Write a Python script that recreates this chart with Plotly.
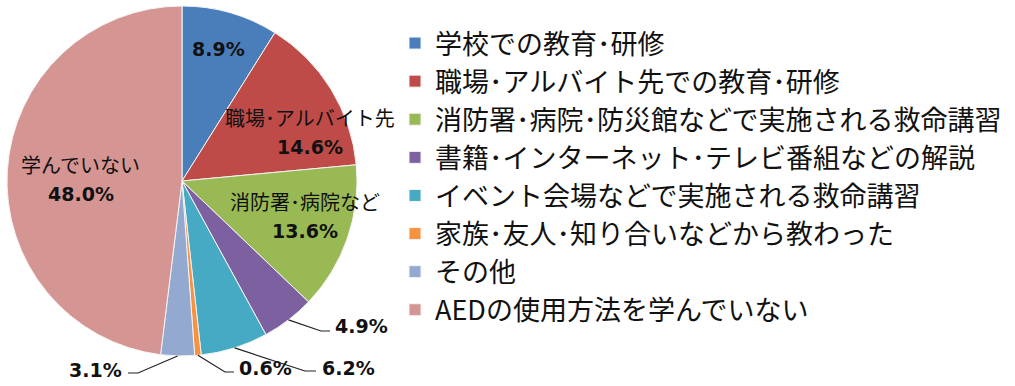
import math
import plotly.graph_objects as go

# ---- data ----
categories = [
    "学校での教育･研修",
    "職場･アルバイト先での教育･研修",
    "消防署･病院･防災館などで実施される救命講習",
    "書籍･インターネット･テレビ番組などの解説",
    "イベント会場などで実施される救命講習",
    "家族･友人･知り合いなどから教わった",
    "その他",
    "AEDの使用方法を学んでいない",
]
values = [8.9, 14.6, 13.6, 4.9, 6.2, 0.6, 3.1, 48.0]
short_labels = ["", "職場･アルバイト先", "消防署･病院など", "", "", "", "", "学んでいない"]
colors = ["#4A7EBB", "#BE4B48", "#98B954", "#7D60A0", "#46AAC5", "#F69240", "#93A9CF", "#D59593"]

W, H = 1015, 386
CX, CY, R = 182, 181, 175  # pie centre / radius in pixels


def px(x, y):
    return x / W, 1 - y / H


def mid_angle(i):
    total = sum(values)
    cum = sum(values[:i]) + values[i] / 2
    return cum / total * 360.0


def polar(angle_deg, r):
    a = math.radians(angle_deg)
    return CX + r * math.sin(a), CY - r * math.cos(a)


fig = go.Figure(go.Pie(
    labels=categories,
    values=values,
    sort=False,
    direction="clockwise",
    rotation=0,
    textinfo="none",
    hoverinfo="label+percent",
    marker=dict(colors=colors, line=dict(color="#f4f4f4", width=1)),
    domain=dict(x=[(CX - R) / W, (CX + R) / W], y=[1 - (CY + R) / H, 1 - (CY - R) / H]),
    showlegend=True,
))

PCT_FONT = dict(family="DejaVu Sans", size=19, color="#111111")
JP_FONT = dict(family="Noto Sans CJK JP", size=20, color="#111111")

annotations = []
shapes = []

# inside labels: (index, angle offset deg, radius fraction)
inside = [(0, -0.6, 0.78), (1, 10.7, 0.78), (2, -3.1, 0.73), (7, -2.6, 0.58)]
for i, da, rf in inside:
    x, y = polar(mid_angle(i) + da, R * rf)
    pct = f"<b>{values[i]:.1f}%</b>"
    if short_labels[i]:
        annotations.append(dict(
            x=x / W, y=1 - (y - 15) / H, xref="paper", yref="paper", text=short_labels[i],
            showarrow=False, font=JP_FONT, xanchor="center", yanchor="middle",
        ))
        ty = y + 15
    else:
        ty = y
    annotations.append(dict(
        x=x / W, y=1 - ty / H, xref="paper", yref="paper", text=pct, showarrow=False,
        font=PCT_FONT, xanchor="center", yanchor="middle",
    ))

# outside labels with leader lines: (index, elbow px, end px, text anchor px, xanchor)
outside = [
    (3, (321, 331), (330, 331), (333, 326), "left"),
    (4, (305, 371), (316, 371), (320, 368), "left"),
    (5, (225, 372), (234, 372), (237, 368), "left"),
    (6, (138, 373), (128, 373), (124, 370), "right"),
]
for i, elbow, end, tpos, xa in outside:
    sx, sy = polar(mid_angle(i), R)
    p0, p1, p2 = px(sx, sy), px(*elbow), px(*end)
    shapes.append(dict(
        type="path", xref="paper", yref="paper",
        path=f"M {p0[0]},{p0[1]} L {p1[0]},{p1[1]} L {p2[0]},{p2[1]}",
        line=dict(color="#222222", width=1.2),
    ))
    tx, ty = px(*tpos)
    annotations.append(dict(
        x=tx, y=ty, xref="paper", yref="paper", text=f"<b>{values[i]:.1f}%</b>",
        showarrow=False, font=PCT_FONT, xanchor=xa, yanchor="middle",
    ))

fig.update_layout(
    width=W, height=H,
    margin=dict(l=0, r=0, t=0, b=0),
    paper_bgcolor="white",
    plot_bgcolor="white",
    font=dict(family="Noto Sans CJK JP"),
    legend=dict(
        x=395 / W, y=1 - 19 / H, xanchor="left", yanchor="top",
        font=dict(family="Noto Sans CJK JP", size=27, color="#111111"),
        itemclick=False,
    ),
    annotations=annotations,
    shapes=shapes,
)

fig.write_html(
    "out.html",
    config={"displayModeBar": False},
    post_script="document.body.style.margin='0';",
)
